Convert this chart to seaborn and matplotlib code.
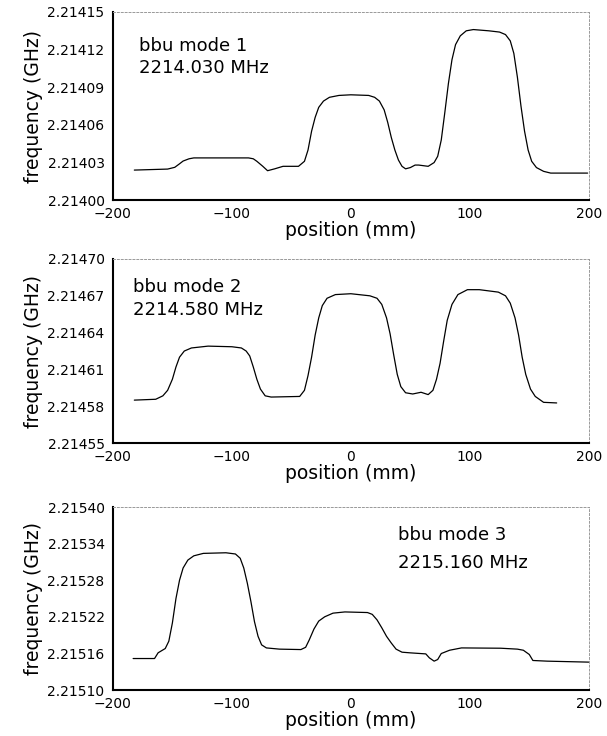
import numpy as np
import pandas as pd
import seaborn as sns
import matplotlib
matplotlib.use('Agg')
import matplotlib.pyplot as plt
from matplotlib.ticker import FormatStrFormatter

#----------------------------------- data -----------------------------------#
pos1 = [-182, -154, -148, -144, -141, -136, -132, -86, -82, -79, -74, -70, -64, -57, -44, -39, -36, -33, -30,
        -27, -23, -18, -10, 0, 15, 20, 24, 28, 31, 34, 37, 40, 43, 46, 50, 54, 57, 65, 70, 73, 76, 79, 82, 85,
        88, 92, 97, 103, 116, 125, 130, 134, 137, 140, 143, 146, 149, 152, 156, 162, 168, 199]
freq1 = [2.214024, 2.2140248, 2.2140262, 2.214029, 2.2140312, 2.214033, 2.2140337, 2.2140337, 2.214033,
         2.214031, 2.214027, 2.2140235, 2.214025, 2.214027, 2.214027, 2.214031, 2.21404, 2.214055, 2.214066,
         2.214074, 2.214079, 2.214082, 2.2140835, 2.214084, 2.2140835, 2.214082, 2.214079, 2.214072,
         2.214062, 2.21405, 2.21404, 2.214032, 2.214027, 2.214025, 2.214026, 2.214028, 2.214028, 2.214027,
         2.21403, 2.214035, 2.214048, 2.21407, 2.214093, 2.214112, 2.214124, 2.214131, 2.214135, 2.214136,
         2.214135, 2.214134, 2.214132, 2.214127, 2.214117, 2.214098, 2.214075, 2.214055, 2.21404, 2.214031,
         2.214026, 2.214023, 2.2140216, 2.2140216]

pos2 = [-182, -164, -158, -154, -150, -147, -144, -140, -134, -120, -100, -92, -88, -85, -82, -79, -76, -72,
        -67, -43, -39, -36, -33, -30, -27, -24, -20, -13, 0, 16, 22, 26, 30, 33, 36, 39, 42, 46, 52, 59, 65,
        69, 72, 75, 78, 81, 85, 90, 98, 108, 124, 130, 134, 138, 141, 144, 147, 151, 155, 162, 173]
freq2 = [2.214585, 2.2145857, 2.2145885, 2.214593, 2.214602, 2.214612, 2.21462, 2.214625, 2.2146275,
         2.214629, 2.2146285, 2.2146275, 2.214625, 2.214621, 2.214612, 2.214602, 2.214594, 2.2145885,
         2.2145875, 2.214588, 2.214593, 2.214605, 2.21462, 2.214638, 2.214652, 2.214662, 2.214668, 2.214671,
         2.2146717, 2.21467, 2.214668, 2.214663, 2.214652, 2.214639, 2.214622, 2.214606, 2.214596, 2.214591,
         2.21459, 2.2145914, 2.2145895, 2.214593, 2.214602, 2.214615, 2.214633, 2.21465, 2.214663, 2.214671,
         2.214675, 2.214675, 2.214673, 2.21467, 2.214664, 2.214652, 2.214638, 2.21462, 2.214606, 2.214594,
         2.214588, 2.2145832, 2.2145827]

pos3 = [-183, -165, -162, -156, -153, -150, -147, -144, -141, -137, -132, -124, -105, -97, -93, -90, -87, -84,
        -81, -78, -75, -71, -60, -42, -38, -35, -31, -27, -22, -15, -5, 14, 18, 22, 26, 30, 34, 38, 43, 50, 63,
        66, 70, 73, 76, 83, 93, 126, 140, 145, 150, 153, 165, 200]
freq3 = [2.2151516, 2.2151516, 2.215161, 2.215168, 2.21518, 2.21521, 2.21525, 2.21528, 2.2153, 2.215313,
         2.21532, 2.215324, 2.215325, 2.215323, 2.215316, 2.2153, 2.215275, 2.215245, 2.215212, 2.215188,
         2.215174, 2.215169, 2.215167, 2.2151663, 2.21517, 2.215182, 2.2152, 2.215213, 2.21522, 2.215226,
         2.215228, 2.215227, 2.215224, 2.215215, 2.215202, 2.215188, 2.215177, 2.215167, 2.215162, 2.2151609,
         2.2151592, 2.2151527, 2.2151473, 2.21515, 2.2151598, 2.2151652, 2.215169, 2.2151685, 2.215167,
         2.2151652, 2.2151582, 2.2151484, 2.2151473, 2.2151457]

mode_names = ['bbu mode 1', 'bbu mode 2', 'bbu mode 3']
mode_freqs = ['2214.030 MHz', '2214.580 MHz', '2215.160 MHz']
y_limits = [(2.21400, 2.21415), (2.21455, 2.21470), (2.21510, 2.21540)]
y_steps = [0.00003, 0.00003, 0.00006]
x_ticks = [-200, -100, 0, 100, 200]

#----------------------------------------- plotting ----------------------------------------------#
sns.set_style('white')
plt.rcParams['font.family'] = ['DejaVu Sans']
plt.rcParams['text.color'] = 'black'
plt.rcParams['axes.labelcolor'] = 'black'
plt.rcParams['xtick.color'] = 'black'
plt.rcParams['ytick.color'] = 'black'

fig = plt.figure(figsize=(6.07, 7.36), dpi=100)
boxes = [[0.186, 0.728, 0.784, 0.2557],
         [0.186, 0.398, 0.784, 0.2501],
         [0.186, 0.0625, 0.784, 0.2486]]
text_xy = [(0.055, 0.82, 0.70), (0.042, 0.848, 0.725), (0.599, 0.845, 0.694)]

curves = [(pos1, freq1), (pos2, freq2), (pos3, freq3)]
for i, (xs, ys) in enumerate(curves):
    ax = fig.add_axes(boxes[i])
    df = pd.DataFrame({'position': xs, 'frequency': ys})
    sns.lineplot(data=df, x='position', y='frequency', ax=ax, color='black',
                 linewidth=0.9, sort=False, estimator=None)
    lo, hi = y_limits[i]
    ax.set_xlim(-200, 200)
    ax.set_ylim(lo, hi)
    ax.set_yticks(np.arange(lo, hi + y_steps[i] / 2, y_steps[i]))
    ax.set_xticks(x_ticks)
    ax.yaxis.set_major_formatter(FormatStrFormatter('%.5f'))
    ax.tick_params(axis='both', labelsize=10, direction='out', length=4, width=1,
                   color='black', labelcolor='black', pad=2)
    ax.tick_params(axis='x', length=3)
    for side in ['left', 'bottom']:
        ax.spines[side].set_color('black')
        ax.spines[side].set_linewidth(1.5)
    for side in ['top', 'right']:
        ax.spines[side].set_color('#999999')
        ax.spines[side].set_linewidth(0.7)
        ax.spines[side].set_linestyle((0, (2, 2)))
    ax.set_xlabel('position (mm)', fontsize=13.5, labelpad=0, color='black')
    ax.set_ylabel('frequency (GHz)', fontsize=13.5, labelpad=3, color='black')
    tx, ty1, ty2 = text_xy[i]
    ax.text(tx, ty1, mode_names[i], transform=ax.transAxes, fontsize=13, va='center', ha='left', color='black')
    ax.text(tx, ty2, mode_freqs[i], transform=ax.transAxes, fontsize=13, va='center', ha='left', color='black')

fig.savefig('out.png', dpi=100)
